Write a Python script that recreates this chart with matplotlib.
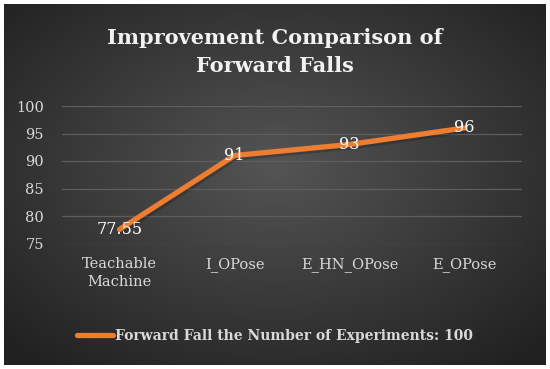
import matplotlib
matplotlib.use("Agg")
import matplotlib.pyplot as plt
import numpy as np

# Data
categories = ["Teachable\nMachine", "I_OPose", "E_HN_OPose", "E_OPose"]
accuracy = [77.55, 91, 93, 96]
value_labels = ["77.55", "91", "93", "96"]
y_ticks = [75, 80, 85, 90, 95, 100]
series_name = "Forward Fall the Number of Experiments: 100"
title = "Improvement Comparison of\nForward Falls"

FONT = "DejaVu Serif"
TEXT = "#d9d9d9"
ORANGE = "#ed7d31"

W, H = 550, 369
fig = plt.figure(figsize=(W / 100, H / 100), dpi=100)
fig.patch.set_facecolor("white")

# Dark radial-gradient chart area
bg = fig.add_axes([4 / W, 4 / H, 542 / W, 361 / H])
gx, gy = np.meshgrid(np.linspace(-1, 1, 400), np.linspace(-1, 1, 300))
r = np.clip(np.sqrt(gx**2 + (gy + 0.1) ** 2) / 1.4, 0, 1)
shade = 0.33 - 0.20 * r
bg.imshow(np.dstack([shade, shade, shade]), aspect="auto",
          extent=[0, 1, 0, 1], interpolation="bilinear")
bg.set_axis_off()

ax = fig.add_axes([62 / W, 1 - 243.5 / H, 460 / W, 137.5 / H])
ax.patch.set_alpha(0)
x = np.arange(len(categories))

# soft shadow + line
ax.plot(x + 0.012, np.array(accuracy) - 0.4, color="black", alpha=0.2,
        lw=4.2, solid_capstyle="round", solid_joinstyle="round", zorder=2)
ax.plot(x, accuracy, color=ORANGE, lw=3.8, solid_capstyle="round",
        solid_joinstyle="round", zorder=3, label=series_name)

for xi, yi, lab in zip(x, accuracy, value_labels):
    ax.text(xi, yi, lab, ha="center", va="center", color="white",
            fontsize=11.5, family=FONT, zorder=4)

ax.set_xlim(-0.5, len(categories) - 0.5)
ax.set_ylim(y_ticks[0], y_ticks[-1])
ax.set_yticks(y_ticks)
ax.set_yticklabels([str(t) for t in y_ticks], family=FONT, fontsize=10.5, color=TEXT)
ax.set_xticks(x)
ax.set_xticklabels(categories, family=FONT, fontsize=10.5, color=TEXT, linespacing=1.3)
ax.tick_params(axis="both", length=0)
ax.tick_params(axis="y", pad=13)
ax.tick_params(axis="x", pad=10)
ax.grid(axis="y", color="#5e5e5e", lw=0.9, zorder=1)
for s in ax.spines.values():
    s.set_visible(False)

fig.text(0.5, 1 - 52 / H, title, ha="center", va="center", color="#f2f2f2",
         fontsize=15, fontweight="bold", family=FONT, linespacing=1.45)

leg = fig.legend(loc="center", bbox_to_anchor=(0.5, 1 - 336 / H), frameon=False,
                 handlelength=2.6, handletextpad=0.1,
                 prop={"family": FONT, "size": 10, "weight": "bold"})
for t in leg.get_texts():
    t.set_color(TEXT)

fig.savefig("out.png", dpi=100)
